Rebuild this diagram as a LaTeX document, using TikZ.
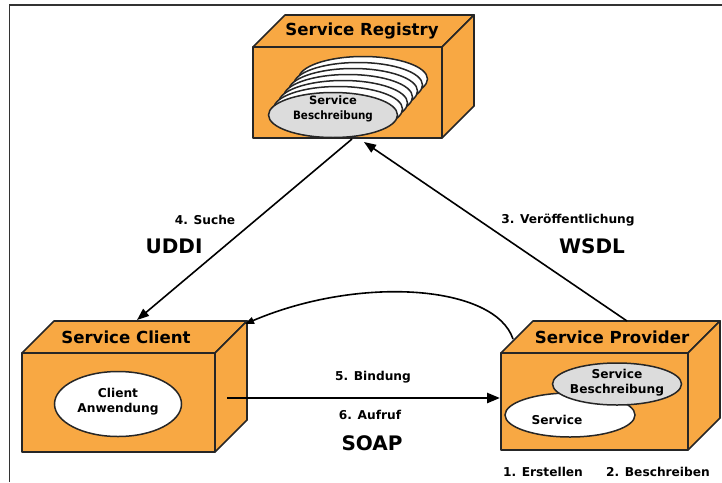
\documentclass[tikz,border=0pt]{standalone}
\usepackage{fontspec}
\setmainfont{DejaVu Sans}
\usetikzlibrary{shapes.geometric,arrows.meta,calc}
\definecolor{orng}{HTML}{F8A843}
\definecolor{edge}{HTML}{262626}
\definecolor{descgray}{HTML}{DCDCDC}
\begin{document}
\begin{tikzpicture}[x=1pt,y=-1pt,
  face/.style={fill=orng, draw=edge, line width=1.7pt, line join=round},
  frontface/.style={face, rectangle, inner sep=0pt, outer sep=0pt},
  boxlabel/.style={font=\bfseries\fontsize{16.6}{17}\selectfont, inner sep=0pt},
  ell/.style={ellipse, draw=edge, line width=1.5pt, inner sep=0pt},
  small/.style={font=\bfseries\fontsize{12.2}{15}\selectfont, align=center, inner sep=0pt},
  proto/.style={font=\bfseries\fontsize{20}{20}\selectfont, inner sep=0pt},
  conn/.style={draw=black, line width=1.6pt, -{Triangle[length=12pt,width=9pt]}},
  frame/.style={draw=black!80, line width=1.5pt}
]
\useasboundingbox (0,0) rectangle (722,482);
% frame
\coordinate (fl) at (9.5,482);
\coordinate (ftl) at (9.5,5);
\coordinate (ftr) at (722,5);
\draw[frame] (fl) -- (ftl) -- (ftr);

% ---------- Service Registry ----------
\node[frontface, minimum width=189pt, minimum height=91pt] (regF) at (347.5,92.5) {};
\draw[face] (regF.north west) -- ++(32,-32) -- ++(189,0) -- (regF.north east) -- cycle;
\draw[face] (regF.north east) -- ++(32,-32) -- ++(0,91) -- (regF.south east) -- cycle;
\node[boxlabel] (regL) at (362,31) {Service Registry};
\foreach \k in {6,5,...,1}{
  \node[ell, fill=white, minimum width=129pt, minimum height=45pt] (regE\k) at (333+5*\k,115-6*\k) {};
}
\node[ell, fill=descgray, minimum width=129pt, minimum height=45pt] (regE0) at (333,115) {};
\node[small, font=\bfseries\fontsize{11.5}{15.5}\selectfont] (regT) at (333,109) {Service\\\scalebox{0.9}[1]{Beschreibung}};

% ---------- Service Client ----------
\node[frontface, minimum width=193pt, minimum height=99pt] (cliF) at (118.5,402.5) {};
\draw[face] (cliF.north west) -- ++(32,-32) -- ++(193,0) -- (cliF.north east) -- cycle;
\draw[face] (cliF.north east) -- ++(32,-32) -- ++(0,99) -- (cliF.south east) -- cycle;
\node[boxlabel] (cliL) at (126,337) {Service Client};
\node[ell, fill=white, minimum width=127pt, minimum height=65pt] (cliE) at (118,404) {};
\node[small] (cliT) at (118,401.5) {Client\\Anwendung};

% ---------- Service Provider ----------
\node[frontface, minimum width=187pt, minimum height=97pt] (proF) at (594.5,401.5) {};
\draw[face] (proF.north west) -- ++(32,-32) -- ++(187,0) -- (proF.north east) -- cycle;
\draw[face] (proF.north east) -- ++(32,-32) -- ++(0,97) -- (proF.south east) -- cycle;
\node[boxlabel] (proL) at (612,337) {Service Provider};
\node[ell, fill=white, minimum width=130pt, minimum height=44pt] (proS) at (570,415) {};
\node[ell, fill=descgray, minimum width=129pt, minimum height=42pt] (proD) at (617,384) {};
\node[small] (proST) at (557,420) {Service};
\node[small] (proDT) at (617,382.5) {Service\\Beschreibung};
\node[small] (step1) at (543,472) {1. Erstellen};
\node[small] (step2) at (658,472) {2. Beschreiben};

% ---------- connectors ----------
\coordinate (regOut) at (352,139);
\coordinate (regIn) at (364,142);
\coordinate (cliTop) at (137,320);
\coordinate (proTop) at (627,321);
\coordinate (proCurve) at (513,339);
\coordinate (cliCorner) at (245,324);
\coordinate (cliSide) at (227,398);
\coordinate (proFront) at (500,398);

\draw[conn] (regOut) -- (cliTop);
\draw[conn] (proTop) -- (regIn);
\draw[draw=black, line width=1.6pt, -{Triangle[length=9pt,width=7pt]}]
  (proCurve) .. controls (495,285) and (360,275) .. (cliCorner);
\draw[draw=black, line width=2.5pt, -{Triangle[length=13pt,width=10pt]}] (cliSide) -- (proFront);

% labels
\node[small] (suche) at (205,220) {4. Suche};
\node[proto] (uddi) at (174,246) {UDDI};
\node[small] (veroe) at (568,220) {3. Veröffentlichung};
\node[proto] (wsdl) at (592,246) {WSDL};
\node[small] (bind) at (373,377) {5. Bindung};
\node[small] (aufruf) at (370,415) {6. Aufruf};
\node[proto] (soap) at (372,443) {SOAP};
\end{tikzpicture}
\end{document}
